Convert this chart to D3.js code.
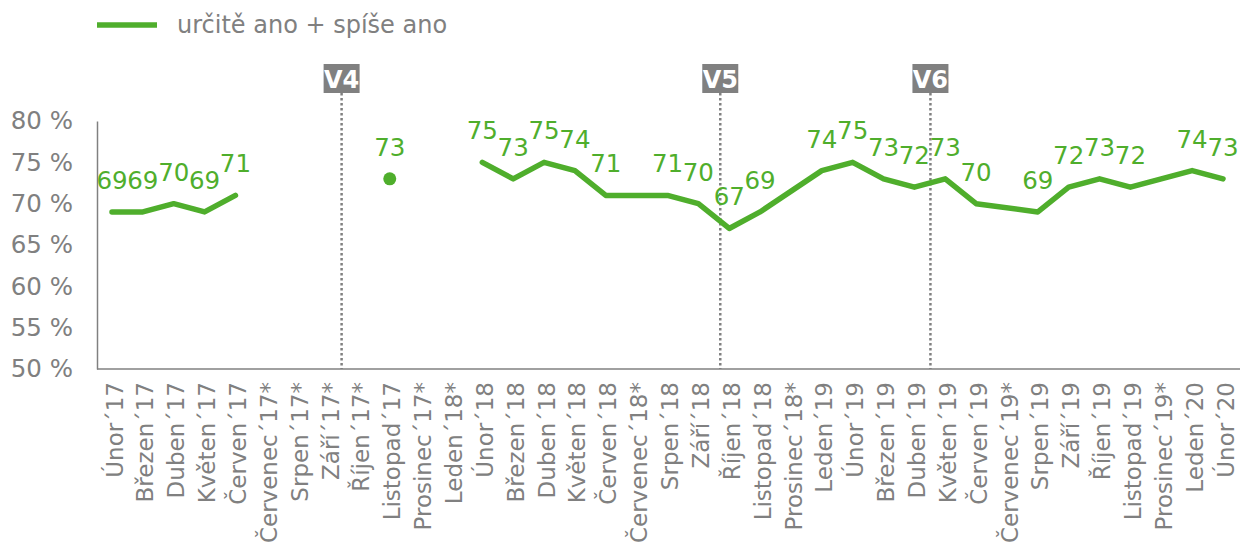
<!DOCTYPE html>
<html>
<head>
<meta charset="utf-8">
<script src="https://cdn.jsdelivr.net/npm/d3@7/dist/d3.min.js"></script>
<style>
  html, body { margin: 0; padding: 0; background: #fff; }
  svg { display: block; font-family: "DejaVu Sans", Verdana, sans-serif; }
</style>
</head>
<body>
<svg id="chart" width="1240" height="547"></svg>
<script>
// ---- data ----
const categories = [
  "Únor´17","Březen´17","Duben´17","Květen´17","Červen´17","Červenec´17*","Srpen´17*","Září´17*","Říjen´17*","Listopad´17","Prosinec´17*","Leden´18*",
  "Únor´18","Březen´18","Duben´18","Květen´18","Červen´18","Červenec´18*","Srpen´18","Září´18","Říjen´18","Listopad´18","Prosinec´18*",
  "Leden´19","Únor´19","Březen´19","Duben´19","Květen´19","Červen´19","Červenec´19*","Srpen´19","Září´19","Říjen´19","Listopad´19","Prosinec´19*",
  "Leden´20","Únor´20"
];
const values = [
  69, 69, 70, 69, 71, null, null, null, null, 73, null, null,
  75, 73, 75, 74, 71, null, 71, 70, 67, 69, null,
  74, 75, 73, 72, 73, 70, null, 69, 72, 73, 72, null,
  74, 73
];
// line is not drawn across the gap that follows these points
const breakAfter = ["Červen´17", "Listopad´17"];
const seriesName = "určitě ano + spíše ano";
const yTicks = [50, 55, 60, 65, 70, 75, 80];
// wave markers: placed between category `after` and the next one
const waves = [
  { label: "V4", after: "Září´17*", frac: 0.44 },
  { label: "V5", after: "Září´18", frac: 0.71 },
  { label: "V6", after: "Duben´19", frac: 0.52 }
];

// ---- layout ----
const green = "#4FAE2C";
const grey = "#808080";
const svg = d3.select("#chart");
const pLeft = 97, pRight = 1241, pTop = 121, pBottom = 369;

const x = d3.scalePoint().domain(categories).range([112, 1223]);
const step = x.step();
const y = d3.scaleLinear().domain([50, 80]).range([pBottom, pTop]);

// y axis
const yAxis = d3.axisLeft(y).tickValues(yTicks).tickSize(0).tickPadding(24).tickFormat(d => d + " %");
const gy = svg.append("g").attr("transform", `translate(${pLeft},0)`).call(yAxis);
gy.select(".domain").attr("stroke", grey).attr("stroke-width", 1.5);
gy.selectAll("text").attr("fill", grey).attr("font-size", 24.5).attr("font-family", "DejaVu Sans, Verdana, sans-serif");

// x axis
const xAxis = d3.axisBottom(x).tickSize(0).tickPadding(0);
const gx = svg.append("g").attr("transform", `translate(0,${pBottom})`).call(xAxis);
gx.select(".domain").attr("d", `M${pLeft},0H${pRight}`).attr("stroke", grey).attr("stroke-width", 1.5);
gx.selectAll(".tick text")
  .attr("fill", grey).attr("font-size", 23).attr("font-family", "DejaVu Sans, Verdana, sans-serif")
  .attr("text-anchor", "end")
  .attr("transform", "translate(2,13) rotate(-90)")
  .attr("dy", "0.35em").attr("y", 0).attr("x", 0);

// wave markers
waves.forEach(w => {
  const xi = x(w.after) + step * w.frac;
  svg.append("line")
    .attr("x1", xi).attr("x2", xi).attr("y1", 93).attr("y2", pBottom)
    .attr("stroke", grey).attr("stroke-width", 2.5).attr("stroke-dasharray", "2.5,2.5");
  svg.append("rect")
    .attr("x", xi - 18).attr("y", 64).attr("width", 36).attr("height", 29)
    .attr("fill", grey);
  svg.append("text")
    .attr("x", xi).attr("y", 79).attr("dy", "0.36em")
    .attr("text-anchor", "middle").attr("fill", "#fff")
    .attr("font-weight", "bold").attr("font-size", 24)
    .text(w.label);
});

// line segments
const pts = categories.map((c, i) => ({ c, v: values[i] })).filter(d => d.v !== null);
const segments = [];
let cur = [];
pts.forEach((p, i) => {
  cur.push(p);
  if (breakAfter.includes(p.c) || i === pts.length - 1) { segments.push(cur); cur = []; }
});
const line = d3.line().x(d => x(d.c)).y(d => y(d.v));
segments.forEach(seg => {
  if (seg.length > 1) {
    svg.append("path").attr("d", line(seg))
      .attr("fill", "none").attr("stroke", green).attr("stroke-width", 5.5)
      .attr("stroke-linejoin", "round").attr("stroke-linecap", "round");
  } else {
    svg.append("circle").attr("cx", x(seg[0].c)).attr("cy", y(seg[0].v)).attr("r", 6.5).attr("fill", green);
  }
});

// data labels
svg.append("g").selectAll("text").data(pts).join("text")
  .attr("x", d => x(d.c)).attr("y", d => y(d.v) - 23)
  .attr("text-anchor", "middle").attr("fill", green).attr("font-size", 24.5)
  .text(d => d.v);

// legend
svg.append("line").attr("x1", 97).attr("x2", 157).attr("y1", 25).attr("y2", 25)
  .attr("stroke", green).attr("stroke-width", 5.5);
svg.append("text").attr("x", 177).attr("y", 25).attr("dy", "0.35em")
  .attr("fill", grey).attr("font-size", 24).text(seriesName);
</script>
</body>
</html>
